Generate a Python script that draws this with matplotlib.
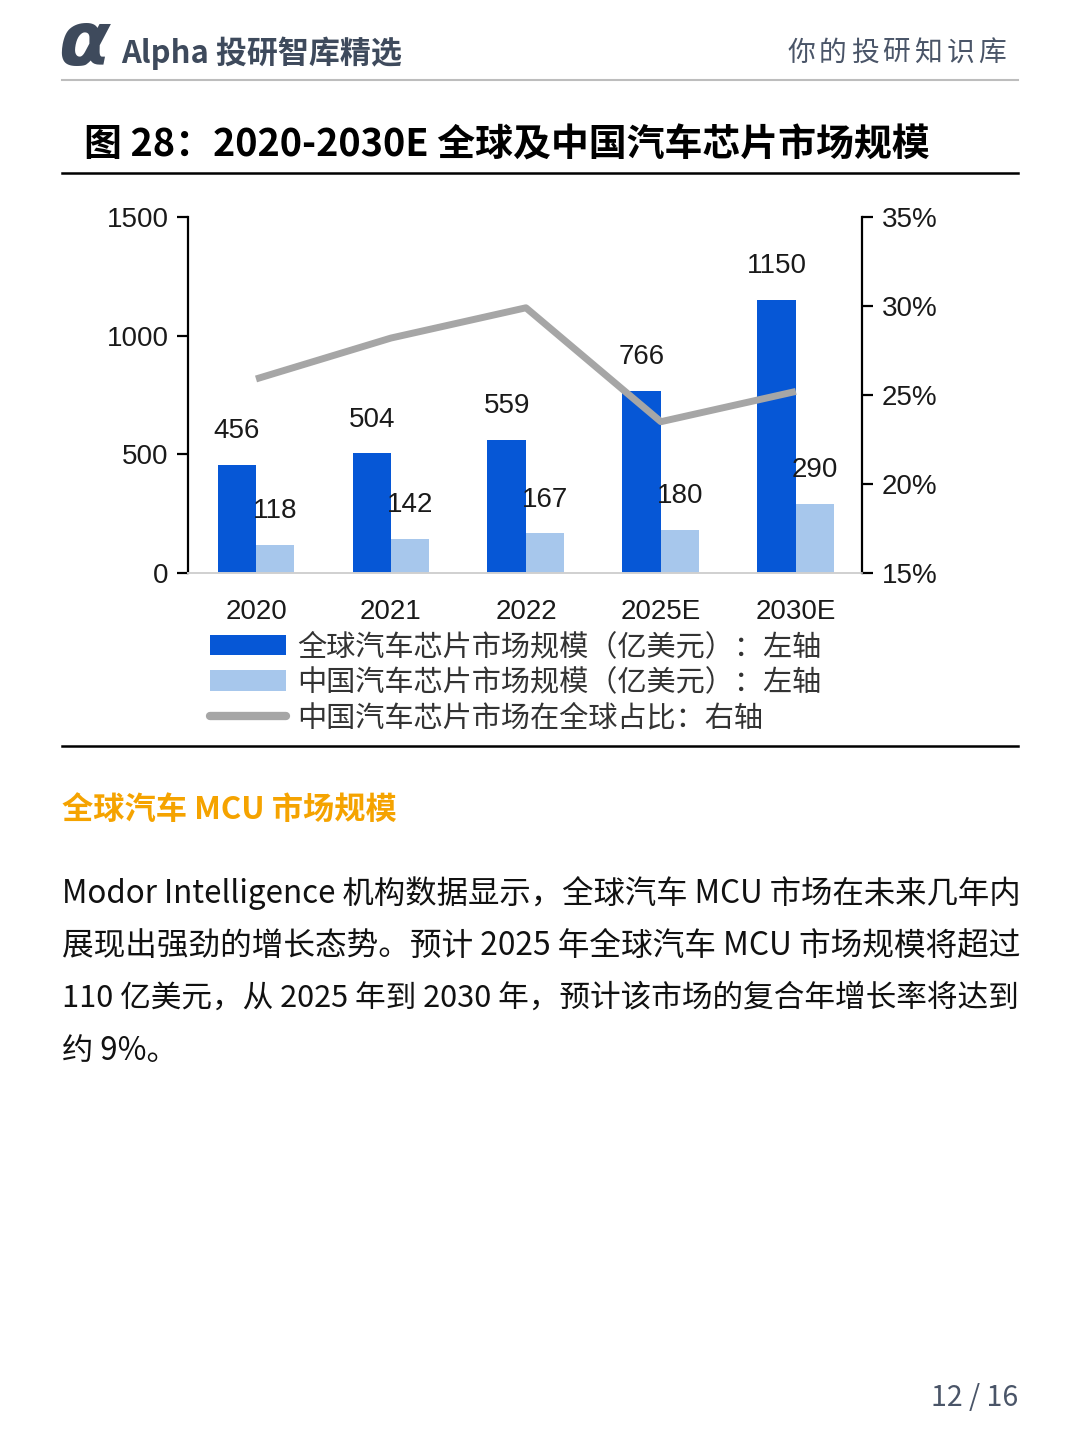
import matplotlib
matplotlib.use("Agg")
import matplotlib.pyplot as plt
from matplotlib.lines import Line2D

plt.rcParams['font.family'] = ['Noto Sans CJK SC', 'DejaVu Sans']

# ── Data ──────────────────────────────────────────────────────────────────────
years = ["2020", "2021", "2022", "2025E", "2030E"]
global_size = [456, 504, 559, 766, 1150]   # 亿美元
china_size = [118, 142, 167, 180, 290]     # 亿美元
china_share = [25.9, 28.2, 29.9, 23.5, 25.2]  # %

legend_labels = ["全球汽车芯片市场规模（亿美元）：左轴",
                 "中国汽车芯片市场规模（亿美元）：左轴",
                 "中国汽车芯片市场在全球占比：右轴"]

C_DARK = "#0657d6"
C_LIGHT = "#a7c7ec"
C_LINE = "#a6a6a6"
C_SLATE = "#3e4a5c"
NUM_FONT = ['Liberation Sans', 'DejaVu Sans']

W, H = 1080, 1440
fig = plt.figure(figsize=(W / 100, H / 100), dpi=100)
fig.patch.set_facecolor("white")


def px(x, y):
    return x / W, 1 - y / H


def hline(y, x0=62, x1=1018, color="black", lw=1.5):
    fig.add_artist(Line2D([x0 / W, x1 / W], [1 - y / H, 1 - y / H],
                          color=color, lw=lw, transform=fig.transFigure))


# ── Header ────────────────────────────────────────────────────────────────────
fig.text(*px(58, 45), "α", fontsize=54, fontweight="bold", fontstyle="italic",
         color=C_SLATE, va="center", ha="left", family="DejaVu Sans")
fig.text(*px(121, 53), "Alpha 投研智库精选", fontsize=22.3, fontweight="bold",
         color=C_SLATE, va="center", ha="left")
right_hdr = "你的投研知识库"
for i, ch in enumerate(right_hdr):
    fig.text(*px(801 + i * 31.8, 53), ch, fontsize=20, color="#4a5568",
             va="center", ha="center")
hline(80, color="#bdbdbd", lw=1.5)

# ── Figure title ──────────────────────────────────────────────────────────────
fig.text(*px(84, 145), "图 28：2020-2030E 全球及中国汽车芯片市场规模",
         fontsize=27.3, fontweight="bold", color="black", va="center", ha="left")
hline(173, lw=1.8)
hline(746, lw=1.8)

# ── Chart ─────────────────────────────────────────────────────────────────────
ax = fig.add_axes([188 / W, 1 - 573 / H, (862 - 188) / W, (573 - 217) / H])
ax2 = ax.twinx()

x = list(range(len(years)))
bw = 0.285
b1 = ax.bar([i - bw / 2 for i in x], global_size, bw, color=C_DARK,
            label=legend_labels[0], zorder=2)
b2 = ax.bar([i + bw / 2 for i in x], china_size, bw, color=C_LIGHT,
            label=legend_labels[1], zorder=2)
for bars in (b1, b2):
    ax.bar_label(bars, padding=15, fontsize=20, family=NUM_FONT, color="#1a1a1a")

ln, = ax2.plot(x, china_share, color=C_LINE, lw=5, solid_capstyle="butt",
               label=legend_labels[2])

ax.set_xlim(-0.504, 4.49)
ax.set_ylim(0, 1500)
ax.set_yticks([0, 500, 1000, 1500])
ax2.set_ylim(15, 35)
ax2.set_yticks([15, 20, 25, 30, 35])
ax2.set_yticklabels([f"{v}%" for v in [15, 20, 25, 30, 35]])
ax.set_xticks(x)
ax.set_xticklabels(years)

for a in (ax, ax2):
    a.spines["top"].set_visible(False)
    a.spines["left"].set_linewidth(1.6)
    a.spines["right"].set_linewidth(1.6)
    a.spines["bottom"].set_color("#d0d0d0")
    a.spines["bottom"].set_linewidth(1.2)
    a.set_facecolor("none")
    for lab in a.get_xticklabels() + a.get_yticklabels():
        lab.set_family(NUM_FONT)
        lab.set_fontsize(20)
        lab.set_color("#1a1a1a")
ax.tick_params(axis="y", length=8, width=1.6, pad=6)
ax2.tick_params(axis="y", length=8, width=1.6, pad=6)
ax.tick_params(axis="x", length=0, pad=19)
ax2.spines["left"].set_visible(False)
ax.spines["right"].set_visible(False)

leg = ax.legend([b1, b2, ln], legend_labels, loc="upper left",
                bbox_to_anchor=px(210, 632), bbox_transform=fig.transFigure,
                frameon=False, fontsize=21, handlelength=2.6, handleheight=0.7,
                handletextpad=0.4, labelspacing=0.2, borderpad=0,
                borderaxespad=0)
for t in leg.get_texts():
    t.set_color("#333333")
for h in leg.get_lines():
    h.set_solid_capstyle("round")
    h.set_linewidth(6)

# ── Body text ─────────────────────────────────────────────────────────────────
fig.text(*px(62, 810), "全球汽车 MCU 市场规模", fontsize=22.5, fontweight="bold",
         color="#f5a300", va="center", ha="left")

body = ["Modor Intelligence 机构数据显示，全球汽车 MCU 市场在未来几年内",
        "展现出强劲的增长态势。预计 2025 年全球汽车 MCU 市场规模将超过",
        "110 亿美元，从 2025 年到 2030 年，预计该市场的复合年增长率将达到",
        "约 9%。"]
body_sizes = [22.6, 22.8, 22.1, 22.5]
for i, line in enumerate(body):
    fig.text(*px(62, 893 + i * 52.7), line, fontsize=body_sizes[i],
             color="#111111", va="center", ha="left")

fig.text(*px(1018, 1398), "12 / 16", fontsize=20.5, color="#4a5568",
         va="center", ha="right")

fig.savefig("out.png", dpi=100, facecolor="white")
